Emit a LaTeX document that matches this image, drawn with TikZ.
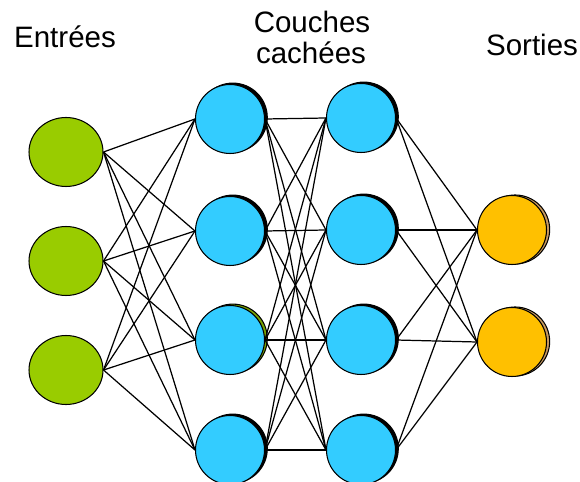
\documentclass[tikz,border=0pt]{standalone}
\usepackage{fontspec}
\setmainfont{Liberation Sans}
\usetikzlibrary{shapes.geometric,shadows}
\definecolor{ingreen}{HTML}{99CC00}
\definecolor{hidblue}{HTML}{33CCFF}
\definecolor{outorange}{HTML}{FFC000}
\definecolor{outshadow}{HTML}{C89A60}
\begin{document}
\begin{tikzpicture}[x=0.02cm,y=-0.02cm,
  inp/.style={ellipse,draw=black,line width=0.6pt,fill=ingreen,minimum width=1.48cm,minimum height=1.38cm,inner sep=0pt},
  hid/.style={circle,draw=black,line width=0.6pt,fill=hidblue,minimum size=1.38cm,inner sep=0pt,
    copy shadow={shadow xshift=1.6pt,shadow yshift=0.8pt,fill=black,draw=black}},
  hidg/.style={circle,draw=black,line width=0.6pt,fill=hidblue,minimum size=1.38cm,inner sep=0pt,
    copy shadow={shadow xshift=1.6pt,shadow yshift=0.8pt,fill=ingreen!80!black,draw=black}},
  outp/.style={circle,draw=black,line width=0.6pt,fill=outorange,minimum size=1.38cm,inner sep=0pt,
    copy shadow={shadow xshift=1.8pt,shadow yshift=0.3pt,fill=outshadow,draw=black}},
  conn/.style={draw=black,line width=0.7pt},
  lbl/.style={font=\fontsize{16.8}{20}\selectfont,inner sep=0pt,anchor=base}]
\useasboundingbox (0,0) rectangle (580,482);
% labels
\node[lbl] (tin) at (65,48) {Entrées};
\node[lbl] (tc1) at (312,33) {Couches};
\node[lbl] (tc2) at (311,64) {cachées};
\node[lbl] (tout) at (532,56) {Sorties};
% inputs
\node[inp] (i1) at (66,152) {};
\node[inp] (i2) at (66,261) {};
\node[inp] (i3) at (66,370) {};
% hidden 1
\node[hid] (a1) at (230,119) {};
\node[hid] (a2) at (230,231) {};
\node[hidg] (a3) at (230,340) {};
\node[hid] (a4) at (230,450) {};
% hidden 2
\node[hid] (b1) at (361,118) {};
\node[hid] (b2) at (361,230) {};
\node[hid] (b3) at (361,340) {};
\node[hid] (b4) at (361,450) {};
% outputs
\node[outp] (o1) at (512,230) {};
\node[outp] (o2) at (512,342) {};
% connections
\foreach \s in {i1,i2,i3}
  \foreach \t in {a1,a2,a3,a4}
    \draw[conn] (\s.east) -- (\t.west);
\foreach \s in {a1,a2,a3,a4}
  \foreach \t in {b1,b2,b3,b4}
    \draw[conn] (\s.east) -- (\t.west);
\foreach \s in {b1,b2,b3,b4}
  \foreach \t in {o1,o2}
    \draw[conn] (\s.east) -- (\t.west);
\end{tikzpicture}
\end{document}
